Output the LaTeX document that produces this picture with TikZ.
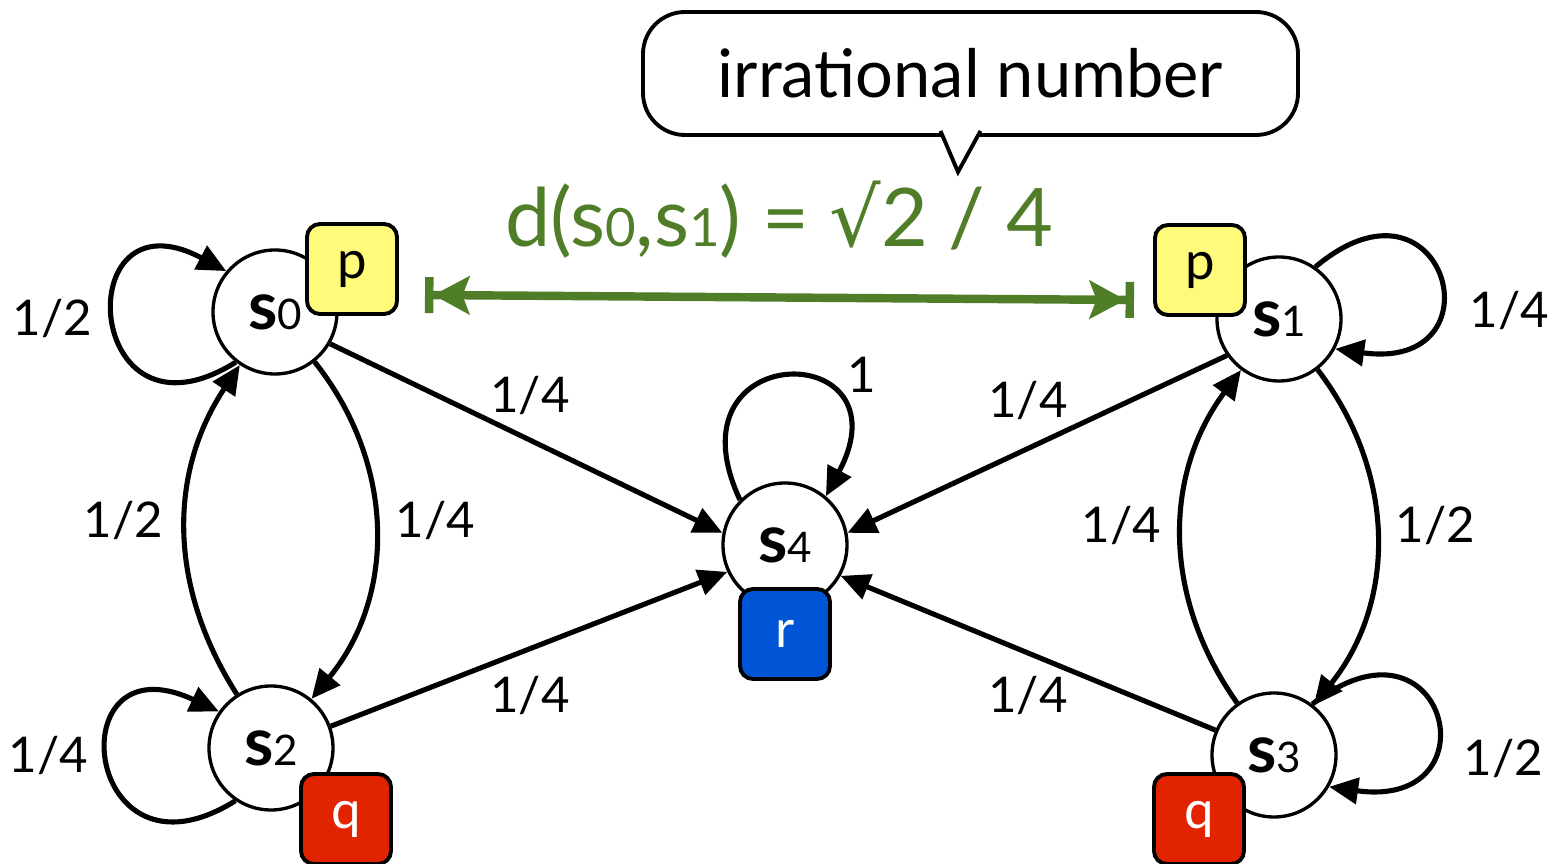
\documentclass[tikz,border=0pt]{standalone}
\usepackage{fontspec}
\setmainfont{Lato}
\newfontfamily\symfont{DejaVu Sans}
\usetikzlibrary{arrows.meta,calc}

\definecolor{propyellow}{RGB}{255,250,122}
\definecolor{propred}{RGB}{225,35,0}
\definecolor{propblue}{RGB}{0,85,214}
\definecolor{distgreen}{RGB}{80,125,40}

\newcommand{\stname}[1]{\textbf{s}{\fontsize{12}{14}\selectfont #1}}
\newcommand{\subdig}[1]{{\fontsize{15}{17}\selectfont #1}}

\tikzset{
  state/.style={circle,draw,line width=0.95pt,fill=white,minimum size=1.24cm,inner sep=0pt,font=\fontsize{19}{21}\selectfont},
  propbox/.style={draw,line width=1.1pt,rounded corners=3.7pt,minimum size=0.9cm,inner sep=0pt,font=\fontsize{15}{17}\selectfont},
  prob/.style={font=\fontsize{14}{17}\selectfont,inner sep=0pt},
  trans/.style={line width=1.45pt,-{Triangle[length=0.29cm,width=0.26cm]}}
}

\begin{document}
\begin{tikzpicture}
    \useasboundingbox (0,0) rectangle (15.52,-8.64);
    % callout
    \node[draw,line width=1.1pt,rounded corners=0.42cm,fill=white,minimum width=6.55cm,minimum height=1.23cm,font=\fontsize{19}{23}\selectfont] (callout) at (9.705,-0.735) {irrational number};
    \coordinate (ptip) at (9.58,-1.72);
    \filldraw[line width=1.1pt,fill=white] ($(callout.south)+(-0.30,0.06)$) -- (ptip) -- ($(callout.south)+(0.10,0.06)$);
    % distance
    \node[text=distgreen,font=\fontsize{23}{26}\selectfont] (dist) at (7.79,-2.20) {d(s\subdig{0},s\subdig{1}) = {\symfont √}2 / 4};
    \coordinate (dl) at (4.25,-2.95);
    \coordinate (dr) at (11.34,-3.00);
    \draw[distgreen,line width=2.4pt,{Bar[width=0.36cm]Stealth[length=0.36cm,width=0.38cm,inset=0.07cm]}-{Stealth[length=0.36cm,width=0.38cm,inset=0.07cm]Bar[width=0.36cm]}] (dl) -- (dr);
    % states
    \node[state] (s0) at (2.75,-3.12) {\stname{0}};
    \node[state] (s1) at (12.79,-3.19) {\stname{1}};
    \node[state] (s2) at (2.71,-7.48) {\stname{2}};
    \node[state] (s3) at (12.74,-7.55) {\stname{3}};
    \node[state] (s4) at (7.85,-5.45) {\stname{4}};
    % self loops
    \draw[trans] (s0.232) .. controls +(212:1.8) and +(152:1.8) .. (s0.140);
    \draw[trans] (s2.236) .. controls +(212:1.8) and +(155:1.8) .. (s2.145);
    \draw[trans] (s1.55) .. controls +(40:1.7) and +(-8:1.7) .. (s1.-28);
    \draw[trans] (s3.53) .. controls +(38:1.7) and +(-8:1.7) .. (s3.-30);
    \draw[trans] (s4.135) .. controls +(115:1.8) and +(62:1.8) .. (s4.50);
    % transitions
    \draw[trans] (s0) to[bend left=39] (s2);
    \draw[trans] (s2) to[bend left=33] (s0);
    \draw[trans] (s1) to[bend left=38] (s3);
    \draw[trans] (s3) to[bend left=36] (s1);
    \draw[trans] (s0.-30) -- (s4.169);
    \draw[trans] (s2.20) -- (s4.205);
    \draw[trans] (s1.215) -- (s4.11);
    \draw[trans] (s3.157) -- (s4.331);
    % propositions
    \node[propbox,fill=propyellow] (p0) at (3.52,-2.69) {p};
    \node[propbox,fill=propyellow] (p1) at (12.00,-2.70) {p};
    \node[propbox,fill=propblue,text=white] (r4) at (7.85,-6.34) {r};
    \node[propbox,fill=propred,text=white] (q2) at (3.46,-8.19) {q};
    \node[propbox,fill=propred,text=white] (q3) at (11.99,-8.19) {q};
    % probabilities
    \node[prob,anchor=west] (l00) at (0.12,-3.18) {1/2};
    \node[prob] (l04) at (5.30,-3.95) {1/4};
    \node[prob] (l44) at (8.62,-3.75) {1};
    \node[prob] (l14) at (10.28,-4.00) {1/4};
    \node[prob,anchor=east] (l11) at (15.50,-3.10) {1/4};
    \node[prob,anchor=east] (l20) at (1.64,-5.20) {1/2};
    \node[prob,anchor=west] (l02) at (3.95,-5.20) {1/4};
    \node[prob,anchor=east] (l31) at (11.62,-5.25) {1/4};
    \node[prob,anchor=west] (l13) at (13.95,-5.25) {1/2};
    \node[prob] (l24) at (5.30,-6.95) {1/4};
    \node[prob] (l34) at (10.28,-6.95) {1/4};
    \node[prob,anchor=west] (l22) at (0.08,-7.55) {1/4};
    \node[prob,anchor=east] (l33) at (15.44,-7.58) {1/2};
\end{tikzpicture}
\end{document}
